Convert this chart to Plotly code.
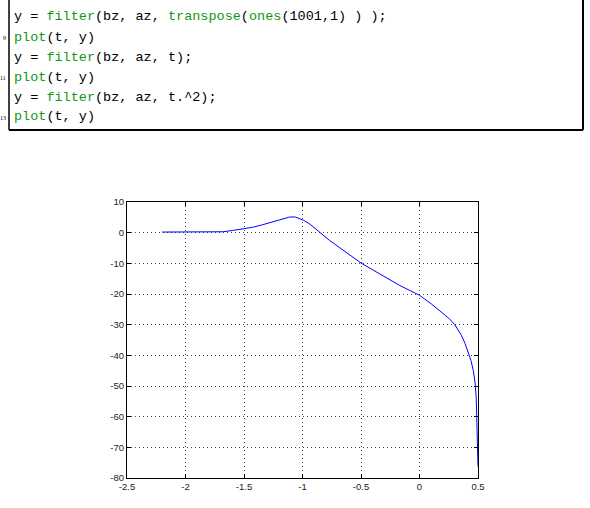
import plotly.graph_objects as go

# ---- data ----
t_vals = [-2.2, -1.68, -1.6, -1.5, -1.42, -1.34, -1.22, -1.11, -1.06, -0.99, -0.94,
          -0.85, -0.77, -0.5, -0.25, -0.17, -0.08, 0.0, 0.1, 0.2, 0.25, 0.3, 0.33, 0.36,
          0.39, 0.41, 0.44, 0.46, 0.475, 0.485, 0.492, 0.497, 0.5]
y_vals = [0.2, 0.3, 0.7, 1.2, 1.8, 2.6, 3.8, 5.1, 5.1, 4.0, 2.9,
          -0.1, -2.5, -9.9, -15.5, -17.2, -18.9, -20.4, -23.2, -26.2, -27.9, -29.9, -31.6, -33.6,
          -36.2, -38.2, -41.7, -45.0, -49.0, -54.0, -62.0, -70.0, -76.3]

x_ticks = [-2.5, -2, -1.5, -1, -0.5, 0, 0.5]
x_ticklabels = ["-2.5", "-2", "-1.5", "-1", "-0.5", "0", "0.5"]
y_ticks = [10, 0, -10, -20, -30, -40, -50, -60, -70, -80]
y_ticklabels = ["10", "0", "-10", "-20", "-30", "-40", "-50", "-60", "-70", "-80"]

G = "#149614"
code_lines = [
    ("", 'y = <span style="color:%s">filter</span>(bz, az, <span style="color:%s">transpose</span>(<span style="color:%s">ones</span>(1001,1) ) );' % (G, G, G)),
    ("9", '<span style="color:%s">plot</span>(t, y)' % G),
    ("", 'y = <span style="color:%s">filter</span>(bz, az, t);' % G),
    ("11", '<span style="color:%s">plot</span>(t, y)' % G),
    ("", 'y = <span style="color:%s">filter</span>(bz, az, t.^2);' % G),
    ("13", '<span style="color:%s">plot</span>(t, y)' % G),
]

W, H = 590, 508
L, R, T, B = 127, 478, 202, 478


def PX(px):
    return (px - L) / (R - L)


def PY(py):
    return (B - py) / (B - T)


fig = go.Figure()
fig.add_trace(go.Scatter(x=t_vals, y=y_vals, mode="lines",
                         line=dict(color="#0000ff", width=1), showlegend=False))

annotations = []
for i, (num, txt) in enumerate(code_lines):
    yc = 17 + 20 * i
    annotations.append(dict(xref="paper", yref="paper", x=PX(12), y=PY(yc),
                            xanchor="left", yanchor="middle", showarrow=False,
                            text=txt, font=dict(family="Liberation Mono", size=13.5, color="#000")))
    if num:
        annotations.append(dict(xref="paper", yref="paper", x=PX(8), y=PY(yc + 1),
                                xanchor="right", yanchor="middle", showarrow=False,
                                text=num, font=dict(family="Liberation Serif", size=6, color="#000")))

shapes = [
    dict(type="line", xref="paper", yref="paper", x0=PX(9), x1=PX(9), y0=PY(0), y1=PY(130),
         line=dict(color="#000", width=1.5)),
    dict(type="line", xref="paper", yref="paper", x0=PX(9), x1=PX(583), y0=PY(130), y1=PY(130),
         line=dict(color="#000", width=2)),
    dict(type="line", xref="paper", yref="paper", x0=PX(583), x1=PX(583), y0=PY(0), y1=PY(130),
         line=dict(color="#000", width=2)),
]

axis_common = dict(showgrid=True, gridcolor="#444", griddash="1px,3px", gridwidth=1,
                   zeroline=False, showline=True, linecolor="#000", linewidth=1,
                   mirror="ticks", ticks="inside", ticklen=4, tickcolor="#000",
                   tickfont=dict(family="Liberation Sans", size=9.5, color="#222"))

fig.update_layout(
    width=W, height=H,
    margin=dict(l=L, r=W - R, t=T, b=H - B, autoexpand=False),
    paper_bgcolor="white", plot_bgcolor="white",
    xaxis=dict(range=[-2.5, 0.5], tickvals=x_ticks, ticktext=x_ticklabels, **axis_common),
    yaxis=dict(range=[-80, 10], tickvals=y_ticks, ticktext=y_ticklabels, **axis_common),
    annotations=annotations, shapes=shapes,
)

fig.write_html("out.html", config={"displayModeBar": False},
               post_script="document.body.style.margin='0';document.body.style.overflow='hidden';")
